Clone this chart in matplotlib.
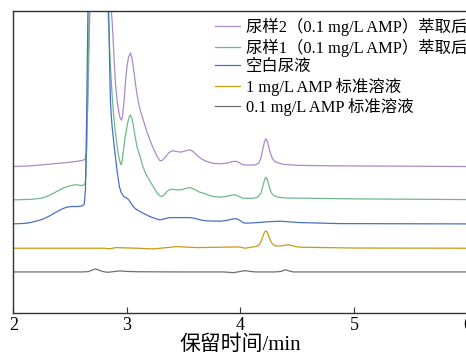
import matplotlib
matplotlib.use("Agg")
import matplotlib.pyplot as plt

plt.rcParams["font.family"] = ["Liberation Serif", "Noto Sans CJK SC"]

# Retention time (min) and detector response for each run
t_urine2 = [2.00, 2.15, 2.30, 2.47, 2.56, 2.61, 2.632, 2.645, 2.66, 2.68, 2.72, 2.77, 2.82,
            2.863, 2.87, 2.876, 2.887, 2.899, 2.914, 2.929, 2.941, 2.952, 2.962, 2.975, 2.987,
            3.00, 3.015, 3.031, 3.045, 3.06, 3.075, 3.09, 3.105, 3.12, 3.15, 3.18, 3.21, 3.24,
            3.27, 3.29, 3.31, 3.34, 3.37, 3.40, 3.44, 3.48, 3.52, 3.557, 3.59, 3.62, 3.66, 3.70,
            3.76, 3.82, 3.88, 3.93, 3.96, 3.99, 4.02, 4.06, 4.13, 4.16, 4.18, 4.195, 4.21,
            4.223, 4.236, 4.25, 4.265, 4.28, 4.30, 4.33, 4.38, 4.50, 4.817, 5.40, 6.00]
y_urine2 = [146.6, 147.3, 148.8, 150.6, 151.8, 152.8, 153.8, 163.0, 233.0, 330.0, 520.0, 560.0, 450.0,
            302.3, 292.0, 280.0, 255.0, 230.0, 212.0, 201.0, 195.0, 193.0, 197.0, 212.0, 230.0,
            246.0, 256.0, 260.0, 255.0, 243.0, 230.0, 218.0, 209.0, 202.0, 191.0, 180.0, 171.0, 163.0,
            156.0, 152.5, 152.5, 156.0, 160.5, 162.5, 161.5, 161.0, 162.5, 163.3, 161.0, 157.5, 154.0, 151.8,
            149.8, 149.3, 150.0, 151.6, 151.8, 150.5, 148.5, 148.0, 148.3, 149.8, 155.0, 163.0, 170.5,
            174.5, 172.0, 166.0, 159.5, 155.0, 152.0, 150.3, 148.8, 147.8, 147.3, 147.0, 146.6]

t_urine1 = [2.00, 2.147, 2.20, 2.26, 2.30, 2.35, 2.41, 2.45, 2.49, 2.53, 2.56, 2.61, 2.632,
            2.64, 2.655, 2.67, 2.72, 2.77, 2.81, 2.834, 2.845, 2.855, 2.87, 2.884, 2.90, 2.914,
            2.928, 2.94, 2.949, 2.958, 2.97, 2.982, 2.993, 3.005, 3.018, 3.031, 3.043, 3.055,
            3.07, 3.09, 3.116, 3.14, 3.17, 3.204, 3.24, 3.27, 3.292, 3.307, 3.33, 3.36, 3.396,
            3.44, 3.484, 3.52, 3.557, 3.60, 3.64, 3.674, 3.72, 3.77, 3.82, 3.88, 3.93, 3.96,
            3.99, 4.02, 4.10, 4.15, 4.18, 4.195, 4.21, 4.223, 4.236, 4.25, 4.265, 4.28, 4.30,
            4.33, 4.40, 5.00, 6.00]
y_urine1 = [113.3, 113.8, 114.3, 115.3, 117.0, 119.8, 123.3, 125.6, 127.0, 128.2, 128.3, 127.6, 129.3,
            138.0, 213.0, 320.0, 500.0, 520.0, 400.0, 302.0, 272.0, 246.6, 218.0, 196.6, 180.0, 166.6,
            157.0, 151.0, 148.3, 152.0, 163.0, 174.0, 181.5, 189.0, 195.5, 198.3, 195.0, 189.0,
            178.0, 166.0, 156.6, 147.0, 138.5, 132.0, 125.0, 119.5, 117.3, 116.6, 118.5, 122.5, 124.0,
            123.3, 123.5, 124.8, 125.6, 123.5, 121.0, 120.0, 118.0, 116.5, 116.0, 116.8, 118.2, 118.2,
            116.5, 115.0, 114.8, 115.8, 120.0, 126.0, 132.5, 136.0, 133.5, 128.0, 122.5, 119.0, 117.3,
            116.0, 115.2, 114.3, 113.6]

t_blank = [2.00, 2.10, 2.147, 2.20, 2.26, 2.32, 2.385, 2.43, 2.47, 2.52, 2.56, 2.61, 2.625,
           2.635, 2.645, 2.66, 2.72, 2.76, 2.80, 2.84, 2.848, 2.855, 2.862, 2.87, 2.885, 2.899,
           2.915, 2.934, 2.95, 2.973, 2.99, 3.005, 3.017, 3.03, 3.046, 3.065, 3.09, 3.116, 3.16,
           3.204, 3.25, 3.292, 3.33, 3.37, 3.396, 3.557, 3.60, 3.65, 3.704, 3.82, 3.88, 3.93,
           3.96, 3.99, 4.026, 4.06, 4.144, 4.25, 4.35, 4.45, 4.526, 4.878, 6.00]
y_blank = [89.3, 89.8, 90.6, 92.0, 94.0, 97.3, 101.6, 104.3, 106.0, 106.7, 106.6, 107.3, 109.3,
           123.0, 193.0, 330.0, 450.0, 470.0, 380.0, 302.0, 250.0, 213.0, 198.0, 186.6, 170.0, 156.6,
           141.0, 126.6, 120.5, 116.6, 115.5, 114.5, 113.3, 111.0, 108.3, 105.5, 103.3, 101.6, 99.0,
           96.6, 94.6, 93.3, 94.3, 95.5, 95.6, 95.6, 94.8, 93.2, 92.3, 92.0, 92.8, 94.2,
           94.6, 93.2, 90.4, 90.0, 90.6, 91.5, 92.0, 91.2, 90.6, 89.6, 89.3]

t_std1 = [2.00, 2.80, 2.852, 2.90, 3.10, 3.233, 3.44, 3.616, 3.82, 3.99, 4.04, 4.13, 4.16,
          4.18, 4.195, 4.21, 4.223, 4.236, 4.25, 4.265, 4.28, 4.30, 4.33, 4.37, 4.40, 4.423,
          4.45, 4.49, 4.53, 5.00, 6.00]
y_std1 = [65.0, 65.0, 64.4, 65.6, 65.0, 64.3, 66.6, 65.6, 66.0, 66.3, 65.0, 66.6, 67.8,
          71.0, 76.0, 80.5, 82.3, 81.0, 77.0, 72.5, 69.5, 67.6, 67.2, 67.5, 68.2, 68.3,
          67.8, 66.5, 66.0, 65.2, 65.0]

t_std01 = [2.00, 2.60, 2.66, 2.70, 2.72, 2.745, 2.78, 2.81, 2.837, 2.88, 2.94, 3.00, 3.10,
           3.50, 3.85, 3.94, 4.00, 4.041, 4.10, 4.144, 4.30, 4.36, 4.38, 4.394, 4.41, 4.44,
           4.467, 5.00, 6.00]
y_std01 = [41.3, 41.3, 41.6, 43.5, 44.3, 43.5, 42.0, 41.2, 41.0, 41.6, 42.3, 41.8, 41.5,
           41.3, 41.3, 40.6, 41.8, 42.6, 41.6, 41.3, 41.3, 41.8, 42.9, 43.3, 43.0, 41.9,
           41.3, 41.3, 41.3]

labels = ["尿样2（0.1 mg/L AMP）萃取后", "尿样1（0.1 mg/L AMP）萃取后", "空白尿液",
          "1 mg/L AMP 标准溶液", "0.1 mg/L AMP 标准溶液"]
colors = ["#a98bc9", "#6db98a", "#4a70c6", "#c99a14", "#6f6f6f"]
series = [(t_urine2, y_urine2), (t_urine1, y_urine1), (t_blank, y_blank),
          (t_std1, y_std1), (t_std01, y_std01)]

fig = plt.figure(figsize=(4.66, 3.58), dpi=100)
ax = fig.add_axes([0.0286, 0.1249, 0.9747, 0.8444])

for (t, y), c, lab in zip(series, colors, labels):
    ax.plot(t, y, color=c, linewidth=0.9, label=lab, solid_joinstyle="round")

ax.set_xlim(2, 6)
ax.set_ylim(0, 302)
ax.set_xticks([2, 3, 4, 5, 6])
ax.set_yticks([])
ax.tick_params(axis="x", direction="in", length=4.5, width=0.8, pad=3,
               labelsize=13, color="#333333")
ax.set_xlabel("保留时间/min", fontsize=15, labelpad=1)
for sp in ax.spines.values():
    sp.set_color("#333333")
    sp.set_linewidth(1.0)

fig.legend(loc="upper left", bbox_to_anchor=(215 / 466, 1 - 18 / 358),
           frameon=False, fontsize=11.8, handlelength=1.5, handletextpad=0.4,
           labelspacing=0.15, borderpad=0, borderaxespad=0)

fig.savefig("out.png", dpi=100)
